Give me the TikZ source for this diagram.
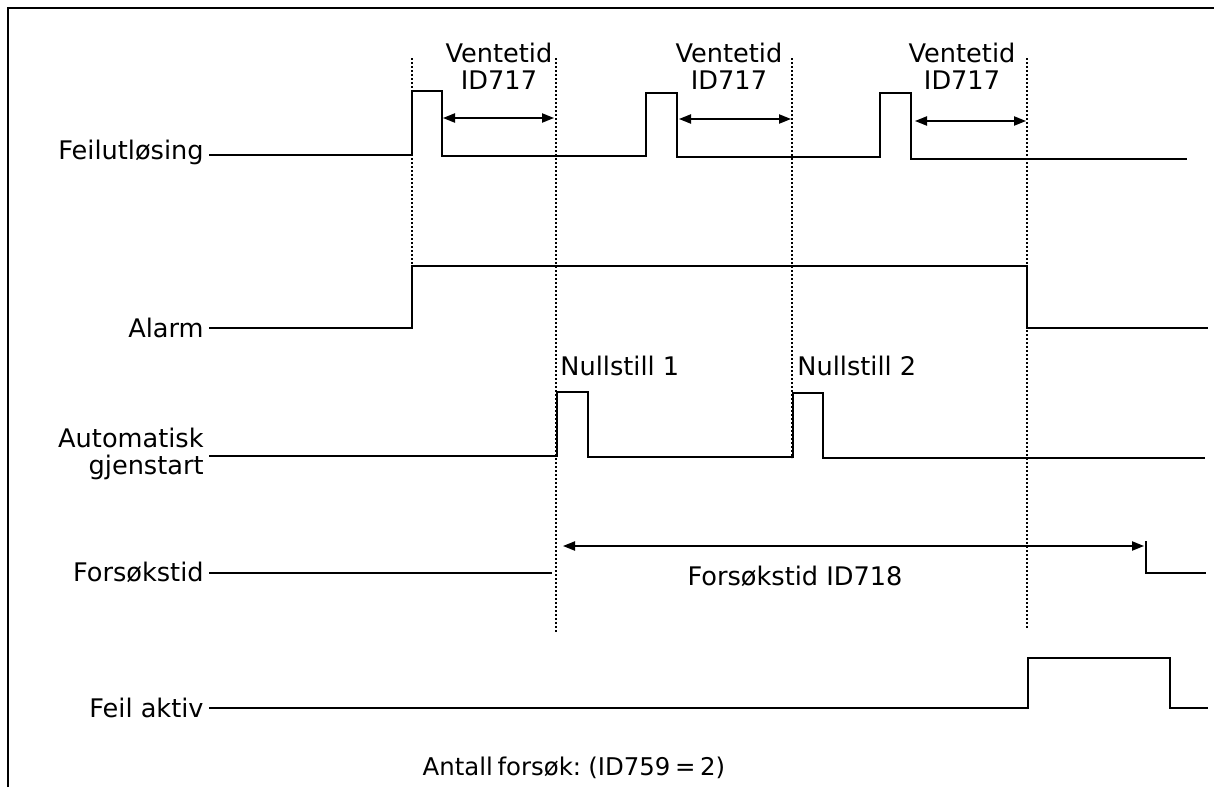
\documentclass[tikz,border=0pt]{standalone}
\usepackage{fontspec}
\setmainfont{DejaVu Sans}
\newfontfamily\notefont[WordSpace=0.6]{DejaVu Sans}
\usetikzlibrary{arrows.meta}
\begin{document}
\begin{tikzpicture}[x=0.5pt,y=-0.5pt,
  sig/.style={line width=0.95pt, line join=miter},
  guide/.style={line width=0.8pt, dash pattern=on 0.9pt off 1.1pt},
  dim/.style={line width=0.8pt, {Triangle[length=6pt,width=4.6pt]}-{Triangle[length=6pt,width=4.6pt]}},
  lbl/.style={font=\fontsize{12.8}{13.5}\selectfont, inner sep=0pt},
  notelbl/.style={font=\notefont\fontsize{12.2}{13}\selectfont, inner sep=0pt},
  frame/.style={line width=1pt}
]
\useasboundingbox (0,0) rectangle (1214,787);
\draw[frame] (8,787) -- (8,8) -- (1214,8);

% dotted guides
\draw[guide] (412,58) -- (412,264);
\draw[guide] (556,58) -- (556,632);
\draw[guide] (792,58) -- (792,458);
\draw[guide] (1027,58) -- (1027,628);

% labels on the left
\node[lbl, anchor=base east] (lF) at (204,159) {Feilutløsing};
\node[lbl, anchor=base east] (lA) at (204,337) {Alarm};
\node[lbl, anchor=north east, align=right] (lR) at (204,428) {Automatisk\\gjenstart};
\node[lbl, anchor=base east] (lT) at (204,581) {Forsøkstid};
\node[lbl, anchor=base east] (lE) at (204,717) {Feil aktiv};

% Feilutløsing
\draw[sig] (209,155) -- (412,155) -- (412,91) -- (442,91) -- (442,156) -- (646,156)
  -- (646,93) -- (677,93) -- (677,157) -- (880,157) -- (880,93) -- (911,93)
  -- (911,159) -- (1187,159);

% Alarm
\draw[sig] (209,328) -- (412,328) -- (412,266) -- (1027,266) -- (1027,328) -- (1208,328);

% Automatisk gjenstart
\draw[sig] (209,456) -- (557,456) -- (557,392) -- (588,392) -- (588,457) -- (793,457)
  -- (793,393) -- (823,393) -- (823,458) -- (1205,458);

% Forsokstid
\draw[sig] (209,573) -- (552,573);
\draw[sig] (1146,541) -- (1146,573) -- (1206,573);

% Feil aktiv
\draw[sig] (209,708) -- (1028,708) -- (1028,658) -- (1170,658) -- (1170,708) -- (1208,708);

% Ventetid dimension arrows
\coordinate (v1a) at (443,118); \coordinate (v1b) at (554,118);
\coordinate (v2a) at (679,119); \coordinate (v2b) at (791,119);
\coordinate (v3a) at (915,121); \coordinate (v3b) at (1026,121);
\draw[dim] (v1a) -- (v1b);
\draw[dim] (v2a) -- (v2b);
\draw[dim] (v3a) -- (v3b);
\node[lbl, anchor=north, align=center] (w1) at (499,43) {Ventetid\\ID717};
\node[lbl, anchor=north, align=center] (w2) at (729,43) {Ventetid\\ID717};
\node[lbl, anchor=north, align=center] (w3) at (962,43) {Ventetid\\ID717};

% Nullstill labels
\node[lbl, anchor=base west] (n1) at (560,375) {Nullstill 1};
\node[lbl, anchor=base west] (n2) at (797,375) {Nullstill 2};

% Forsokstid dimension
\coordinate (fa) at (563,546); \coordinate (fb) at (1144,546);
\draw[dim] (fa) -- (fb);
\node[lbl, anchor=base] (fl) at (795,585) {Forsøkstid ID718};

% bottom note
\node[notelbl, anchor=base] (note) at (574,775) {Antall forsøk: (ID759 = 2)};
\end{tikzpicture}
\end{document}
